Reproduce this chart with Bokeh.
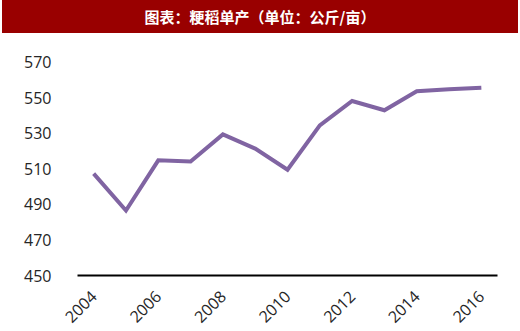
import math
from bokeh.plotting import figure
from bokeh.models import Div, FixedTicker, Range1d
from bokeh.layouts import column
from bokeh.embed import file_html
from bokeh.resources import INLINE

title_text = "图表：粳稻单产（单位：公斤/亩）"
years = [2004, 2005, 2006, 2007, 2008, 2009, 2010,
         2011, 2012, 2013, 2014, 2015, 2016]
yield_values = [507.3, 486.6, 514.8, 514.2, 529.4, 521.4, 509.5,
                534.5, 548.2, 543.0, 553.7, 554.8, 555.7]
y_ticks = [450, 470, 490, 510, 530, 550, 570]
x_ticks = [2004, 2006, 2008, 2010, 2012, 2014, 2016]

header = Div(
    text=title_text,
    width=516, height=33,
    margin=(0, 2, 0, 2),
    styles={
        "background-color": "#990000",
        "color": "white",
        "font-family": "'Noto Sans CJK SC', sans-serif",
        "font-weight": "bold",
        "font-size": "15px",
        "text-align": "center",
        "line-height": "33px",
        "width": "516px",
        "height": "33px",
    },
)

p = figure(
    x_range=Range1d(2003.5, 2016.5),
    y_range=Range1d(450, 580),
    frame_width=420, frame_height=231,
    min_border_left=77, min_border_right=23,
    min_border_top=11, min_border_bottom=54,
    output_backend="svg", toolbar_location=None,
)
p.line(years, yield_values, line_color="#8064A2", line_width=4, line_join="miter")

p.outline_line_color = None
p.xgrid.grid_line_color = None
p.ygrid.grid_line_color = None

p.yaxis.ticker = FixedTicker(ticks=y_ticks)
p.yaxis.axis_line_color = None
p.yaxis.major_tick_line_color = None
p.yaxis.minor_tick_line_color = None
p.yaxis.major_label_standoff = 20
p.yaxis.major_label_text_font = "Open Sans"
p.yaxis.major_label_text_font_size = "16px"
p.yaxis.major_label_text_color = "#262626"

p.xaxis.ticker = FixedTicker(ticks=x_ticks)
p.xaxis.axis_line_color = "black"
p.xaxis.axis_line_width = 2
p.xaxis.major_tick_line_color = None
p.xaxis.minor_tick_line_color = None
p.xaxis.major_label_orientation = math.pi / 4
p.xaxis.major_label_standoff = 12
p.xaxis.major_label_text_font = "Open Sans"
p.xaxis.major_label_text_font_size = "16px"
p.xaxis.major_label_text_color = "#262626"

layout = column(header, p, spacing=0)
open("out.html", "w").write(file_html(layout, INLINE))
